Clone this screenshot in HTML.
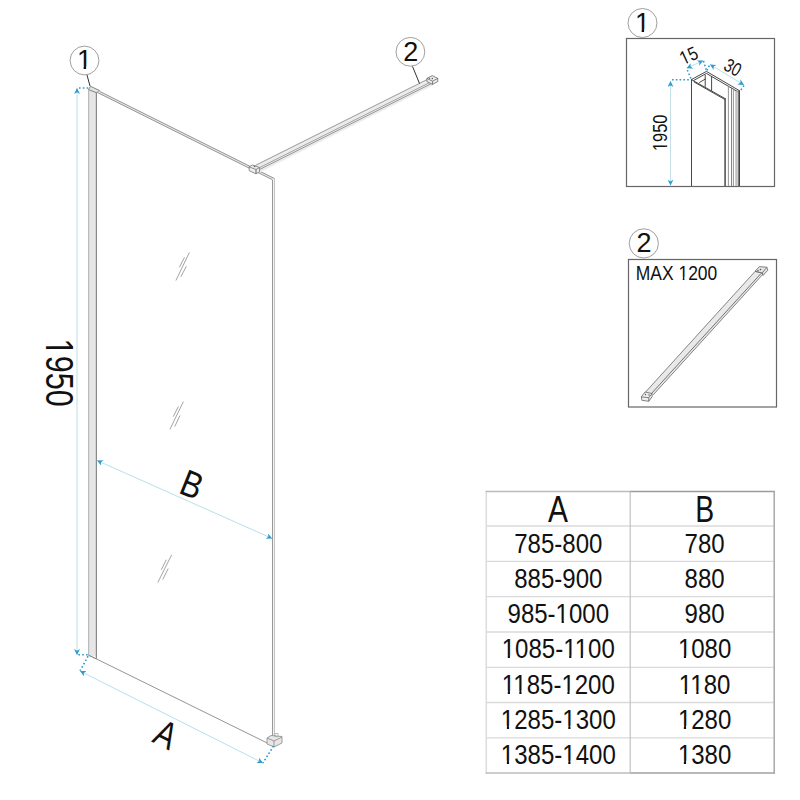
<!DOCTYPE html>
<html><head><meta charset="utf-8"><style>
html,body{margin:0;padding:0;background:#fff;width:800px;height:800px;overflow:hidden}
svg{position:absolute;left:0;top:0}
text{font-family:"Liberation Sans",sans-serif;fill:#111}
</style></head><body>
<svg width="800" height="800" viewBox="0 0 800 800">
<defs>
<marker id="ar" viewBox="0 0 10 10" refX="10" refY="5" markerWidth="6" markerHeight="6" orient="auto-start-reverse" markerUnits="userSpaceOnUse">
<path d="M0,0 L10,5 L0,10 L3,5 Z" fill="#2b9bd1"/>
</marker>
</defs>

<!-- ===== MAIN DRAWING ===== -->
<!-- dimension 1950 -->
<line x1="77.0" y1="88" x2="77.0" y2="655" stroke="#cde7ed" stroke-width="1.3" marker-start="url(#ar)" marker-end="url(#ar)"/>
<line x1="79" y1="88" x2="88.5" y2="88" stroke="#2b9bd1" stroke-width="1.6" stroke-dasharray="1.6 2.2"/>
<line x1="78.4" y1="654.7" x2="88.5" y2="654.7" stroke="#2b9bd1" stroke-width="1.6" stroke-dasharray="1.6 2.2"/>
<text transform="translate(46.2,338.6) rotate(90) scale(0.806,1)" font-size="38">1950</text>

<!-- profile -->
<rect x="88.5" y="89.5" width="8" height="567" fill="#e6e6e6"/>
<line x1="88.6" y1="89.5" x2="88.6" y2="655.2" stroke="#bbb" stroke-width="1.2"/>
<line x1="96.4" y1="92.5" x2="96.4" y2="658.8" stroke="#8a8a8a" stroke-width="1.2"/>
<polygon points="88.5,89.5 90.5,86.3 99.5,90.5 96.5,92.8" fill="#e4e4e4" stroke="#777" stroke-width="0.9"/>
<line x1="88.5" y1="655.2" x2="96.6" y2="659" stroke="#777" stroke-width="1"/>

<!-- glass top edge -->
<polygon points="99.5,91.35 274.6,178.6 272.5,179.75 96.6,92.1" fill="#e6e6e6"/>
<line x1="99.5" y1="91.35" x2="274.6" y2="178.6" stroke="#959595" stroke-width="1"/>
<line x1="96.6" y1="92.1" x2="272.5" y2="179.75" stroke="#959595" stroke-width="1"/>
<!-- glass right edge -->
<rect x="272.5" y="180" width="2" height="560" fill="#f2f2f2"/>
<line x1="272.5" y1="180" x2="272.5" y2="740" stroke="#999" stroke-width="1"/>
<line x1="274.5" y1="178.6" x2="274.5" y2="739" stroke="#c4c4c4" stroke-width="1"/>
<!-- glass bottom edge -->
<line x1="96.6" y1="659" x2="268" y2="743.4" stroke="#888" stroke-width="0.9"/>
<!-- bottom bracket -->
<polygon points="267,738 271,735.5 282,736.5 282,743 274,747 267,744" fill="#e6e6e6" stroke="#888" stroke-width="0.8"/>
<line x1="267" y1="738" x2="274" y2="741" stroke="#888" stroke-width="0.8"/>
<line x1="274" y1="741" x2="282" y2="737" stroke="#888" stroke-width="0.8"/>
<line x1="274" y1="741" x2="274" y2="747" stroke="#888" stroke-width="0.8"/>
<rect x="275" y="733.5" width="3" height="3" fill="none" stroke="#999" stroke-width="0.6"/>

<!-- hatches -->
<g stroke="#999" stroke-width="0.9" fill="none">
<line x1="189.4" y1="252.4" x2="175.9" y2="280.5"/>
<line x1="184.5" y1="257.3" x2="179.3" y2="267.4"/>
<line x1="186.4" y1="266.3" x2="180.8" y2="276.8"/>
<line x1="183.4" y1="401.6" x2="169.9" y2="429.4"/>
<line x1="178.4" y1="406.4" x2="173.3" y2="416.6"/>
<line x1="180" y1="415.5" x2="174.8" y2="426.4"/>
<line x1="171.6" y1="554.9" x2="157.8" y2="582.5"/>
<line x1="166.3" y1="559.7" x2="161.3" y2="569.8"/>
<line x1="168.2" y1="568.5" x2="162.8" y2="579.4"/>
</g>

<!-- wall bar -->
<polygon points="255.5,165.35 427,79.6 433,82.6 433,85.6 260,172.2 257,170" fill="#ececec"/>
<line x1="255.5" y1="165.35" x2="427" y2="79.6" stroke="#999" stroke-width="1"/>
<line x1="259" y1="167.9" x2="432.5" y2="81.15" stroke="#9a9a9a" stroke-width="0.9"/>
<line x1="260" y1="169.3" x2="432.5" y2="83.05" stroke="#999" stroke-width="1"/>
<!-- wall bar end cap -->
<polygon points="426.9,78.4 432.2,75.6 437.8,78.4 437.8,81.5 432.5,84.4 426.9,81.5" fill="#eee" stroke="#666" stroke-width="0.8"/>
<polyline points="426.9,78.4 432.5,81.2 437.8,78.4" fill="none" stroke="#666" stroke-width="0.8"/>
<line x1="432.5" y1="81.2" x2="432.5" y2="84.4" stroke="#666" stroke-width="0.8"/>
<g fill="#555"><circle cx="432.3" cy="78.5" r="0.8"/><circle cx="429.5" cy="78.3" r="0.6"/></g>
<!-- clamp -->
<polygon points="249,166.8 252.5,165 259.5,167.5 259.5,171.8 256,173.8 249.3,170.8" fill="#eee" stroke="#777" stroke-width="0.8"/>
<polyline points="249,166.8 256,169.5 259.5,167.5" fill="none" stroke="#777" stroke-width="0.8"/>
<line x1="256" y1="169.5" x2="256" y2="173.8" stroke="#666" stroke-width="1"/>
<circle cx="254.5" cy="166.4" r="0.8" fill="#666"/>

<!-- callout 1 -->
<circle cx="84.5" cy="60.5" r="14.4" fill="#fff" stroke="#8e8e8e" stroke-width="0.85"/>
<text x="84.4" y="69.4" font-size="27" text-anchor="middle">1</text>
<line x1="87" y1="75" x2="90" y2="86" stroke="#333" stroke-width="1"/>
<!-- callout 2 -->
<circle cx="410.4" cy="51.8" r="14.4" fill="#fff" stroke="#8e8e8e" stroke-width="0.85"/>
<text x="410.8" y="60.6" font-size="27" text-anchor="middle">2</text>
<line x1="412.5" y1="66.4" x2="419.5" y2="83.5" stroke="#333" stroke-width="1"/>

<!-- B dimension -->
<line x1="97" y1="460.5" x2="272.2" y2="538.5" stroke="#b8dfea" stroke-width="1" marker-start="url(#ar)" marker-end="url(#ar)"/>
<text transform="translate(177.5,492.5) rotate(22) scale(0.84,1)" font-size="37">B</text>

<!-- A dimension -->
<line x1="88" y1="656.2" x2="80" y2="671" stroke="#2b9bd1" stroke-width="1.6" stroke-dasharray="1.6 2.2"/>
<line x1="273.5" y1="746" x2="263" y2="763" stroke="#2b9bd1" stroke-width="1.6" stroke-dasharray="1.6 2.2"/>
<line x1="80" y1="671" x2="263" y2="763" stroke="#b8dfea" stroke-width="1" marker-start="url(#ar)" marker-end="url(#ar)"/>
<text transform="translate(151,741.5) rotate(26.5) scale(0.8,1)" font-size="38">A</text>

<!-- ===== DETAIL BOX 1 ===== -->
<circle cx="642.5" cy="23" r="14.5" fill="#fff" stroke="#8e8e8e" stroke-width="0.85"/>
<text x="642.4" y="32.2" font-size="27" text-anchor="middle">1</text>
<rect x="626.5" y="38.5" width="148" height="148" fill="none" stroke="#666" stroke-width="1.2"/>
<!-- dims -->
<line x1="670.5" y1="81" x2="670.5" y2="185.6" stroke="#c4e0e6" stroke-width="1" marker-start="url(#ar)" marker-end="url(#ar)"/>
<line x1="672" y1="79.8" x2="691" y2="79.8" stroke="#2b9bd1" stroke-width="1.6" stroke-dasharray="1.6 2.2"/>
<line x1="691" y1="78.5" x2="686.6" y2="68.5" stroke="#2b9bd1" stroke-width="1.6" stroke-dasharray="1.6 2.2"/>
<line x1="703.5" y1="61" x2="706.3" y2="70" stroke="#2b9bd1" stroke-width="1.6" stroke-dasharray="1.6 2.2"/>
<line x1="707" y1="70.5" x2="709.8" y2="64.5" stroke="#2b9bd1" stroke-width="1.6" stroke-dasharray="1.6 2.2"/>
<line x1="744" y1="85.5" x2="740.5" y2="90.5" stroke="#2b9bd1" stroke-width="1.6" stroke-dasharray="1.6 2.2"/>
<line x1="686.6" y1="68.3" x2="703.3" y2="60.6" stroke="#b8dfea" stroke-width="1" marker-start="url(#ar)" marker-end="url(#ar)"/>
<line x1="710" y1="64.4" x2="744" y2="85" stroke="#b8dfea" stroke-width="1" marker-start="url(#ar)" marker-end="url(#ar)"/>
<text transform="translate(667,151) rotate(-90) scale(0.83,1)" font-size="19.7">1950</text>
<text transform="translate(683.3,65.2) rotate(-25) scale(0.85,1)" font-size="19">15</text>
<text transform="translate(722.6,69.3) rotate(28) scale(0.78,1)" font-size="19">30</text>
<!-- channel profile -->
<polygon points="735,89.6 739.2,91.1 739.2,186 735,186" fill="#d0d0d0"/>
<g stroke="#333" stroke-width="0.9" fill="none">
<line x1="691.5" y1="79.6" x2="691.5" y2="186"/>
<polyline points="691.4,79.6 706.4,71.4 739.8,90.9"/>
<polyline points="693.6,80.5 706.4,73.4 737.5,91.6"/>
<line x1="691.4" y1="79.6" x2="725.5" y2="98.8"/>
<line x1="693.8" y1="81.8" x2="725" y2="99.6"/>
<line x1="699.2" y1="82.6" x2="705.6" y2="78.9"/>
<line x1="705.2" y1="74.8" x2="705.2" y2="86.8"/>
<line x1="711.6" y1="76.3" x2="711.6" y2="90.9"/>
<line x1="725.1" y1="98.3" x2="725.1" y2="186" stroke="#555" stroke-width="1.6"/>
<line x1="728.4" y1="85.8" x2="728.4" y2="186" stroke="#888"/>
<line x1="731.5" y1="87.7" x2="731.5" y2="186" stroke="#777"/>
<line x1="733.4" y1="88.8" x2="733.4" y2="186" stroke="#888"/>
<line x1="736.6" y1="90.4" x2="736.6" y2="186" stroke="#bbb"/>
<line x1="739.2" y1="90.6" x2="739.2" y2="186" stroke="#444" stroke-width="1.6"/>
</g>

<!-- ===== DETAIL BOX 2 ===== -->
<circle cx="643.8" cy="243.4" r="14.6" fill="#fff" stroke="#8e8e8e" stroke-width="0.85"/>
<text x="644" y="252" font-size="27" text-anchor="middle">2</text>
<rect x="628.5" y="259.5" width="148" height="147.5" fill="none" stroke="#666" stroke-width="1.2"/>
<text transform="translate(635.8,279.6) scale(0.9,1)" font-size="19.4">MAX 1200</text>
<!-- diagonal bar -->
<polygon points="645.6,392 755,271.5 762.5,274.5 653.5,395" fill="#e9e9e9"/>
<g stroke="#777" stroke-width="0.9" fill="none">
<line x1="645.6" y1="392" x2="755" y2="271.5"/>
<line x1="651" y1="394" x2="761" y2="273.5" stroke="#666"/>
<line x1="653.2" y1="394.8" x2="762.2" y2="275"/>
</g>
<!-- end caps -->
<g stroke="#666" stroke-width="0.8" fill="#eee">
<polygon points="641.3,396.9 645,392 652,393.5 652.2,396.5 648.8,401.3 641.9,400.3"/>
<polyline points="641.3,396.9 648.8,397.7 652,393.5" fill="none"/>
<line x1="648.8" y1="397.7" x2="648.8" y2="401.3"/>
<polygon points="755,271.3 759.4,266.6 766.9,267.2 767.8,270.3 763.1,275.3 762.2,273.1" fill="#e4e4e4"/>
<polyline points="755,271.3 762.2,273.1 766.9,267.2" fill="none"/>
<line x1="762.2" y1="273.1" x2="763.1" y2="275.3"/>
</g>
<g fill="#555"><circle cx="760.5" cy="269.5" r="0.8"/><circle cx="758" cy="270.5" r="0.7"/><circle cx="645.5" cy="394.5" r="0.7"/><circle cx="649" cy="395" r="0.7"/></g>

<!-- ===== TABLE ===== -->
<g stroke="#dadada" stroke-width="1.3">
<line x1="487" y1="526" x2="773.5" y2="526"/>
<line x1="487" y1="561.3" x2="773.5" y2="561.3"/>
<line x1="487" y1="596.6" x2="773.5" y2="596.6"/>
<line x1="487" y1="632" x2="773.5" y2="632"/>
<line x1="487" y1="667.4" x2="773.5" y2="667.4"/>
<line x1="487" y1="702.5" x2="773.5" y2="702.5"/>
<line x1="487" y1="737.8" x2="773.5" y2="737.8"/>
</g>
<line x1="486.3" y1="491" x2="486.3" y2="773.5" stroke="#dcdcdc" stroke-width="1.5"/>
<line x1="630.2" y1="491" x2="630.2" y2="773" stroke="#c6c6c6" stroke-width="1.3"/>
<line x1="485.6" y1="491.5" x2="630.2" y2="491.5" stroke="#bcbcbc" stroke-width="1.5"/>
<line x1="630.2" y1="491.5" x2="775" y2="491.5" stroke="#9c9c9c" stroke-width="1.5"/>
<line x1="485.6" y1="773" x2="630.2" y2="773" stroke="#bdbdbd" stroke-width="1.5"/>
<line x1="630.2" y1="773" x2="775" y2="773" stroke="#a0a0a0" stroke-width="1.5"/>
<line x1="774.2" y1="491" x2="774.2" y2="773.7" stroke="#a8a8a8" stroke-width="1.5"/>
<g font-size="27" text-anchor="middle">
<text transform="translate(558,521.8) scale(0.8,1)" font-size="37.4">A</text>
<text transform="translate(704.8,521.8) scale(0.76,1)" font-size="37.4">B</text>
<text transform="translate(558.3,553.30) scale(0.89,1)">785-800</text><text transform="translate(704.6,553.30) scale(0.89,1)">780</text>
<text transform="translate(558.3,588.35) scale(0.89,1)">885-900</text><text transform="translate(704.6,588.35) scale(0.89,1)">880</text>
<text transform="translate(558.3,623.40) scale(0.89,1)">985-1000</text><text transform="translate(704.6,623.40) scale(0.89,1)">980</text>
<text transform="translate(558.3,658.45) scale(0.89,1)">1085-1100</text><text transform="translate(704.6,658.45) scale(0.89,1)">1080</text>
<text transform="translate(558.3,693.50) scale(0.89,1)">1185-1200</text><text transform="translate(704.6,693.50) scale(0.89,1)">1180</text>
<text transform="translate(558.3,728.55) scale(0.89,1)">1285-1300</text><text transform="translate(704.6,728.55) scale(0.89,1)">1280</text>
<text transform="translate(558.3,763.60) scale(0.89,1)">1385-1400</text><text transform="translate(704.6,763.60) scale(0.89,1)">1380</text>
</g>



<!-- feet -->
<g fill="#fff">
<g transform="translate(46.2,338.6) rotate(90) scale(0.806,1)"><rect x="1.89" y="-3.64" width="7.61" height="5.14"/><rect x="12.96" y="-3.64" width="7.36" height="5.14"/></g>
<g><rect x="77.94" y="66.58" width="5.68" height="4.32"/><rect x="86.11" y="66.58" width="5.52" height="4.32"/></g>
<g><rect x="635.94" y="29.38" width="5.68" height="4.32"/><rect x="644.11" y="29.38" width="5.52" height="4.32"/></g>
<g transform="translate(667,151) rotate(-90) scale(0.83,1)"><rect x="0.50" y="-2.27" width="4.40" height="3.77"/><rect x="6.74" y="-2.27" width="4.30" height="3.77"/></g>
<g transform="translate(683.3,65.2) rotate(-25) scale(0.85,1)"><rect x="0.45" y="-2.22" width="4.28" height="3.72"/><rect x="6.51" y="-2.22" width="4.18" height="3.72"/></g>
<g transform="translate(635.8,279.6) scale(0.9,1)"><rect x="47.85" y="-2.25" width="4.35" height="3.75"/><rect x="54.01" y="-2.25" width="4.25" height="3.75"/></g>
<g transform="translate(558.3,623.40) scale(0.89,1)"><rect x="-1.96" y="-2.82" width="5.68" height="4.32"/><rect x="6.21" y="-2.82" width="5.52" height="4.32"/></g>
<g transform="translate(558.3,658.45) scale(0.89,1)"><rect x="-62.48" y="-2.82" width="5.68" height="4.32"/><rect x="-54.31" y="-2.82" width="5.52" height="4.32"/></g>
<g transform="translate(558.3,658.45) scale(0.89,1)"><rect x="6.54" y="-2.82" width="5.68" height="4.32"/><rect x="14.71" y="-2.82" width="5.52" height="4.32"/></g>
<g transform="translate(558.3,658.45) scale(0.89,1)"><rect x="19.54" y="-2.82" width="5.68" height="4.32"/><rect x="27.71" y="-2.82" width="5.52" height="4.32"/></g>
<g transform="translate(704.6,658.45) scale(0.89,1)"><rect x="-28.97" y="-2.82" width="5.68" height="4.32"/><rect x="-20.80" y="-2.82" width="5.52" height="4.32"/></g>
<g transform="translate(558.3,693.50) scale(0.89,1)"><rect x="-62.48" y="-2.82" width="5.68" height="4.32"/><rect x="-54.31" y="-2.82" width="5.52" height="4.32"/></g>
<g transform="translate(558.3,693.50) scale(0.89,1)"><rect x="-49.49" y="-2.82" width="5.68" height="4.32"/><rect x="-41.32" y="-2.82" width="5.52" height="4.32"/></g>
<g transform="translate(558.3,693.50) scale(0.89,1)"><rect x="4.54" y="-2.82" width="5.68" height="4.32"/><rect x="12.71" y="-2.82" width="5.52" height="4.32"/></g>
<g transform="translate(704.6,693.50) scale(0.89,1)"><rect x="-27.96" y="-2.82" width="5.68" height="4.32"/><rect x="-19.79" y="-2.82" width="5.52" height="4.32"/></g>
<g transform="translate(704.6,693.50) scale(0.89,1)"><rect x="-14.97" y="-2.82" width="5.68" height="4.32"/><rect x="-6.80" y="-2.82" width="5.52" height="4.32"/></g>
<g transform="translate(558.3,728.55) scale(0.89,1)"><rect x="-63.48" y="-2.82" width="5.68" height="4.32"/><rect x="-55.31" y="-2.82" width="5.52" height="4.32"/></g>
<g transform="translate(558.3,728.55) scale(0.89,1)"><rect x="5.54" y="-2.82" width="5.68" height="4.32"/><rect x="13.71" y="-2.82" width="5.52" height="4.32"/></g>
<g transform="translate(704.6,728.55) scale(0.89,1)"><rect x="-28.97" y="-2.82" width="5.68" height="4.32"/><rect x="-20.80" y="-2.82" width="5.52" height="4.32"/></g>
<g transform="translate(558.3,763.60) scale(0.89,1)"><rect x="-63.48" y="-2.82" width="5.68" height="4.32"/><rect x="-55.31" y="-2.82" width="5.52" height="4.32"/></g>
<g transform="translate(558.3,763.60) scale(0.89,1)"><rect x="5.54" y="-2.82" width="5.68" height="4.32"/><rect x="13.71" y="-2.82" width="5.52" height="4.32"/></g>
<g transform="translate(704.6,763.60) scale(0.89,1)"><rect x="-28.97" y="-2.82" width="5.68" height="4.32"/><rect x="-20.80" y="-2.82" width="5.52" height="4.32"/></g>
</g>
<!-- /feet -->
</svg>
</body></html>
